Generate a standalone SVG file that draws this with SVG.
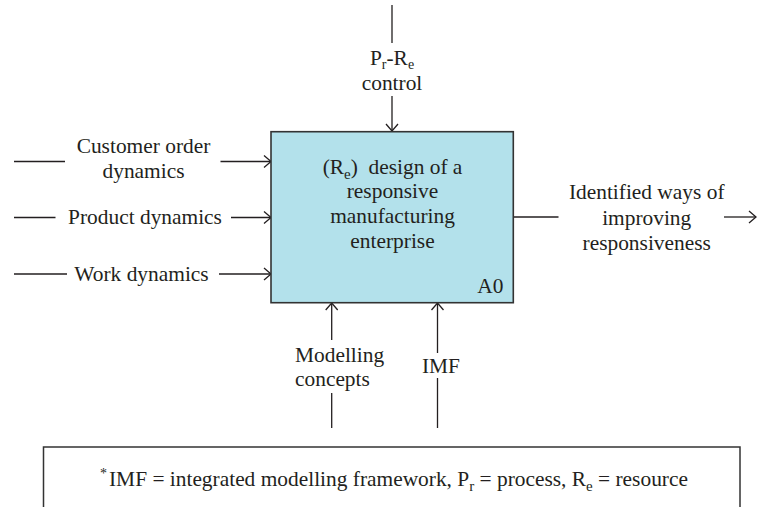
<svg xmlns="http://www.w3.org/2000/svg" width="757" height="507" viewBox="0 0 757 507">
<style>
text{font-family:"Liberation Serif","Times New Roman","DejaVu Serif",serif;font-size:21.4px;fill:#231f20}
.c{text-anchor:middle}
.ln{stroke:#231f20;stroke-width:1.3;fill:none}
.ar{marker-end:url(#arr)}
</style>
<defs>
<marker id="arr" markerUnits="userSpaceOnUse" viewBox="-1 -7 9 14" markerWidth="9" markerHeight="14" refX="7" refY="0" orient="auto">
<path d="M0,-6 L7,0 L0,6" fill="none" stroke="#231f20" stroke-width="1.3"/>
</marker>
</defs>
<rect width="757" height="507" fill="#ffffff"/>
<g id="connectors">
<line class="ln" x1="392" y1="5" x2="392" y2="43"/>
<line class="ln ar" x1="392" y1="96" x2="392" y2="131"/>
<line class="ln" x1="14" y1="161.5" x2="65" y2="161.5"/>
<line class="ln ar" x1="220.5" y1="161.5" x2="271" y2="161.5"/>
<line class="ln" x1="14" y1="217.5" x2="55.5" y2="217.5"/>
<line class="ln ar" x1="231" y1="217.5" x2="271" y2="217.5"/>
<line class="ln" x1="14" y1="274" x2="67" y2="274"/>
<line class="ln ar" x1="219" y1="274" x2="271" y2="274"/>
<line class="ln" x1="513.5" y1="217" x2="558.5" y2="217"/>
<line class="ln ar" x1="724" y1="217" x2="756" y2="217"/>
<line class="ln ar" x1="331.7" y1="340" x2="331.7" y2="303"/>
<line class="ln" x1="331.7" y1="393" x2="331.7" y2="428"/>
<line class="ln ar" x1="437.5" y1="353" x2="437.5" y2="303"/>
<line class="ln" x1="437.5" y1="378" x2="437.5" y2="428"/>
</g>
<g id="control-label">
<text class="c" x="392" y="64.5">P<tspan dy="4" font-size="14">r</tspan><tspan dy="-4">-R</tspan><tspan dy="4" font-size="14">e</tspan></text>
<text class="c" x="392" y="89.5">control</text>
</g>
<g id="input-customer">
<text class="c" x="143.5" y="152.5">Customer order</text>
<text class="c" x="143.5" y="178">dynamics</text>
</g>
<g id="input-product">
<text class="c" x="145" y="224">Product dynamics</text>
</g>
<g id="input-work">
<text class="c" x="141.5" y="280.5">Work dynamics</text>
</g>
<g id="A0">
<rect x="271" y="131.7" width="242.3" height="171" fill="#b3e1eb" stroke="#333333" stroke-width="1.6"/>
<text class="c" x="392.5" y="173.5">(R<tspan dy="5" font-size="15">e</tspan><tspan dy="-5">)&#160; design of a</tspan></text>
<text class="c" x="392.5" y="198">responsive</text>
<text class="c" x="392.5" y="223">manufacturing</text>
<text class="c" x="392.5" y="248">enterprise</text>
<text x="503.5" y="292.5" text-anchor="end">A0</text>
</g>
<g id="output">
<text class="c" x="646.7" y="198.5">Identified ways of</text>
<text class="c" x="646.7" y="224.5">improving</text>
<text class="c" x="646.7" y="250">responsiveness</text>
</g>
<g id="mech-modelling">
<text x="295" y="361.5">Modelling</text>
<text x="295" y="386">concepts</text>
</g>
<g id="mech-imf">
<text class="c" x="441" y="372.5">IMF</text>
</g>
<g id="footnote">
<rect x="43.5" y="447" width="696.5" height="62" fill="none" stroke="#333333" stroke-width="1.5"/>
<text x="100" y="485.5"><tspan dy="-8" font-size="14">*</tspan><tspan dy="8" dx="2">IMF = integrated modelling framework, P</tspan><tspan dy="5" font-size="15">r</tspan><tspan dy="-5"> = process, R</tspan><tspan dy="5" font-size="15">e</tspan><tspan dy="-5"> = resource</tspan></text>
</g>
</svg>
